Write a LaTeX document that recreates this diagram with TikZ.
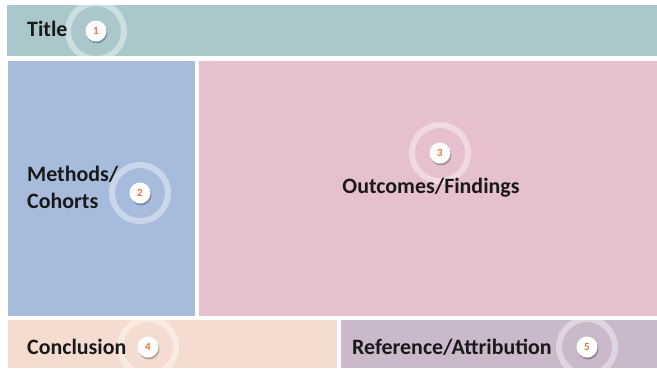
\documentclass[tikz,border=0pt]{standalone}
\usepackage{fontspec}
\setmainfont{Carlito}
\begin{document}
\begin{tikzpicture}[x=1bp,y=-1bp,
  lbl/.style={font=\bfseries\fontsize{22}{27}\selectfont, text=black!90, inner sep=0pt},
  badge/.style={circle, fill=white, minimum size=21bp, inner sep=0pt, text=badgeorange, font=\bfseries\fontsize{11}{11}\selectfont},
  halo/.style={draw=white, draw opacity=0.4, line width=6bp}
]
\definecolor{titlec}{HTML}{AAC8CC}
\definecolor{bluec}{HTML}{A7BCDD}
\definecolor{pinkc}{HTML}{E6C0CF}
\definecolor{concc}{HTML}{F5DCD0}
\definecolor{refc}{HTML}{C9B9CB}
\definecolor{badgeorange}{HTML}{E8733A}
\useasboundingbox (0,0) rectangle (657,368);
\fill[white] (0,0) rectangle (657,368);
% panels
\fill[titlec] (7,5) rectangle (657,56);
\fill[bluec] (8,61) rectangle (195,316);
\fill[pinkc] (199,61) rectangle (657,316);
\fill[concc] (8,320) rectangle (337,368);
\fill[refc] (341,320) rectangle (657,368);
% halos
\begin{scope}\clip (7,5) rectangle (657,56);
  \draw[halo] (96,31) circle (28);\end{scope}
\begin{scope}\clip (8,61) rectangle (195,316);
  \draw[halo] (140,193) circle (28);\end{scope}
\begin{scope}\clip (199,61) rectangle (657,316);
  \draw[halo] (440,153) circle (28);\end{scope}
\begin{scope}\clip (8,320) rectangle (337,368);
  \draw[halo] (148,347) circle (28);\end{scope}
\begin{scope}\clip (341,320) rectangle (657,368);
  \draw[halo] (587,347) circle (28);\end{scope}
% shadows
\foreach \p in {(96,31),(140,193),(440,153),(148,347),(587,347)}{
  \fill[black, opacity=0.25] \p ++(1,2) circle (10.5);
}
% badges
\node[badge] (b1) at (96,31) {1};
\node[badge] (b2) at (140,193) {2};
\node[badge] (b3) at (440,153) {3};
\node[badge] (b4) at (148,347) {4};
\node[badge] (b5) at (587,347) {5};
% labels
\node[lbl, anchor=west] (t1) at (27,29) {Title};
\node[lbl, anchor=west, align=left] (t2) at (27,187) {Methods/\\Cohorts};
\node[lbl] (t3) at (431,188) {Outcomes/Findings};
\node[lbl, anchor=west] (t4) at (27,347) {Conclusion};
\node[lbl, anchor=west] (t5) at (352,347) {Reference/Attribution};
\end{tikzpicture}
\end{document}
